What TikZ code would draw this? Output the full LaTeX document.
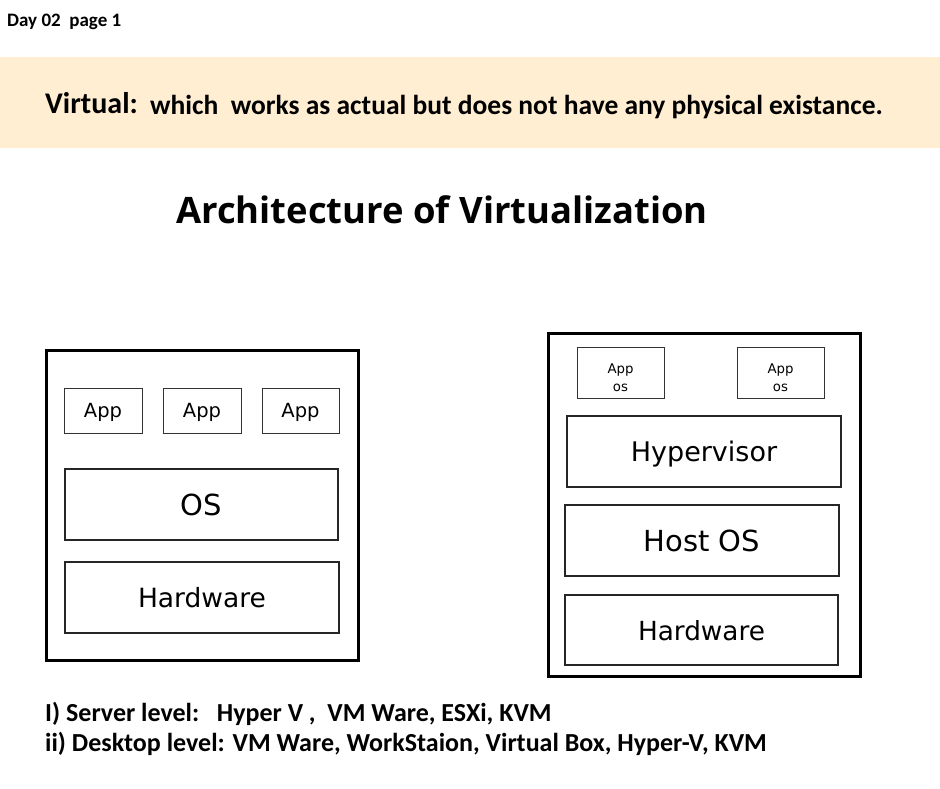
\documentclass[tikz,border=0pt]{standalone}
\usepackage{fontspec}
\setmainfont{DejaVu Sans}
\newfontfamily\condbold{Carlito}
\newfontfamily\titlefont{Open Sans}
\definecolor{banner}{RGB}{255,238,210}
\begin{document}
\begin{tikzpicture}[x=1pt,y=-1pt,
  outerbox/.style={draw=black,line width=3pt,inner sep=0pt},
  layerbox/.style={draw=black!85,line width=1.5pt,inner sep=0pt},
  appbox/.style={draw=black!80,line width=0.9pt,inner sep=0pt}]
\useasboundingbox[fill=white] (0,0) rectangle (940,788);
\fill[banner] (0,57) rectangle (940,148);
\node[anchor=base west,inner sep=0pt,font=\condbold\bfseries\fontsize{19}{22}\selectfont] (day) at (7,26) {Day 02\ \ page 1};
\node[anchor=base west,inner sep=0pt,font=\condbold\bfseries\fontsize{30}{34}\selectfont] (virt) at (45,113) {Virtual:};
\node[anchor=base west,inner sep=0pt,font=\condbold\bfseries\fontsize{27.5}{32}\selectfont] (def) at (150,114) {which\ \ works as actual but does not have any physical existance.};
\node[anchor=base west,inner sep=0pt,font=\titlefont\bfseries\fontsize{36.4}{40}\selectfont] (title) at (176,223) {Architecture of Virtualization};
% left
\node[outerbox,minimum width=312,minimum height=310] (lout) at (202,505) {};
\node[appbox,minimum width=78,minimum height=45] (la1) at (103,410.5) {};
\node[appbox,minimum width=78,minimum height=45] (la2) at (202,410.5) {};
\node[appbox,minimum width=77,minimum height=45] (la3) at (300.5,410.5) {};
\foreach \n in {la1,la2,la3}
  \node[inner sep=0pt,anchor=base,font=\fontsize{19.5}{22}\selectfont] at ([yshift=-7pt]\n.center) {App};
\node[layerbox,minimum width=273,minimum height=71] (los) at (201.5,504.5) {};
\node[inner sep=0pt,anchor=base,font=\fontsize{29}{34}\selectfont] at ([yshift=-11pt]los.center) {OS};
\node[layerbox,minimum width=274,minimum height=71] (lhw) at (202,597.5) {};
\node[inner sep=0pt,anchor=base,font=\fontsize{26.5}{30}\selectfont] at ([yshift=-10pt]lhw.center) {Hardware};
% right
\node[outerbox,minimum width=312,minimum height=343] (rout) at (704,504.5) {};
\node[appbox,minimum width=87,minimum height=51] (ra1) at (620.5,373) {};
\node[appbox,minimum width=87,minimum height=51] (ra2) at (780.5,373) {};
\foreach \n in {ra1,ra2}{
  \node[inner sep=0pt,anchor=base,font=\fontsize{13.3}{19}\selectfont] at ([yshift=0pt]\n.center) {App};
  \node[inner sep=0pt,anchor=base,font=\fontsize{13.3}{19}\selectfont] at ([yshift=-18.5pt]\n.center) {os};
}
\node[layerbox,minimum width=274,minimum height=71] (rhv) at (704,451.5) {};
\node[inner sep=0pt,anchor=base,font=\fontsize{27}{30}\selectfont] at ([yshift=-10pt]rhv.center) {Hypervisor};
\node[layerbox,minimum width=274,minimum height=71] (rhos) at (702,540.5) {};
\node[inner sep=0pt,anchor=base,font=\fontsize{29}{32}\selectfont] at ([yshift=-11pt]rhos.center) {Host OS};
\node[layerbox,minimum width=273,minimum height=70] (rhw) at (701.5,630) {};
\node[inner sep=0pt,anchor=base,font=\fontsize{26.3}{30}\selectfont] at ([yshift=-10pt]rhw.center) {Hardware};
% bottom
\node[anchor=base west,inner sep=0pt,font=\condbold\bfseries\fontsize{26}{30}\selectfont] (l1) at (45,721) {I) Server level:\ \ \ Hyper V ,\ \ VM Ware, ESXi, KVM};
\node[anchor=base west,inner sep=0pt,font=\condbold\bfseries\fontsize{26}{30}\selectfont] (l2) at (45,751) {ii) Desktop level: VM Ware, WorkStaion, Virtual Box, Hyper-V, KVM};
\end{tikzpicture}
\end{document}
